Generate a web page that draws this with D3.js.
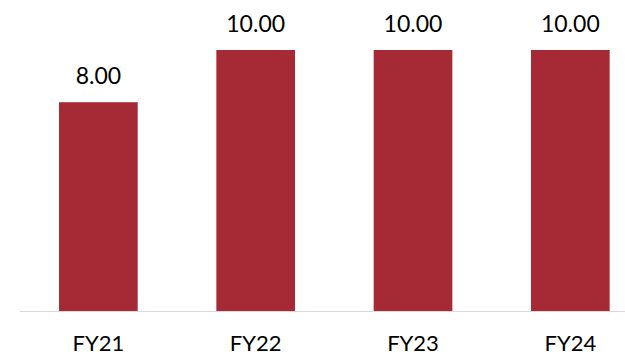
<!DOCTYPE html>
<html>
<head>
<meta charset="utf-8">
<script src="https://cdn.jsdelivr.net/npm/d3@7"></script>
<style>
  body { margin: 0; background: #fff; }
  svg text { font-family: Lato, "Open Sans", sans-serif; }
</style>
</head>
<body>
<div id="chart"></div>
<script>
var categories = ["FY21", "FY22", "FY23", "FY24"];
var values = [8, 10, 10, 10];

var width = 625, height = 356;

var svg = d3.select("#chart").append("svg")
  .attr("width", width)
  .attr("height", height);

var xScale = d3.scaleBand()
  .domain(categories)
  .range([19.7, 649])
  .paddingInner(0.5)
  .paddingOuter(0.25);

var yScale = d3.scaleLinear()
  .domain([0, 10])
  .range([311, 50]);

// baseline
svg.append("line")
  .attr("x1", 19.7)
  .attr("x2", width)
  .attr("y1", yScale(0) + 0.5)
  .attr("y2", yScale(0) + 0.5)
  .attr("stroke", "#d9d9d9")
  .attr("stroke-width", 1);

svg.selectAll(".bar")
  .data(values)
  .enter().append("rect")
  .attr("class", "bar")
  .attr("x", (d, i) => xScale(categories[i]))
  .attr("y", d => yScale(d))
  .attr("width", xScale.bandwidth())
  .attr("height", d => yScale(0) - yScale(d))
  .attr("fill", "#a52a35");

svg.selectAll(".val")
  .data(values)
  .enter().append("text")
  .attr("class", "val")
  .attr("x", (d, i) => xScale(categories[i]) + xScale.bandwidth() / 2)
  .attr("y", d => yScale(d) - 18)
  .attr("text-anchor", "middle")
  .attr("font-size", 23)
  .attr("fill", "#000")
  .text(d => d3.format(".2f")(d));

svg.selectAll(".cat")
  .data(categories)
  .enter().append("text")
  .attr("class", "cat")
  .attr("x", d => xScale(d) + xScale.bandwidth() / 2)
  .attr("y", 351)
  .attr("text-anchor", "middle")
  .attr("font-size", 22)
  .attr("fill", "#000")
  .text(d => d);
</script>
</body>
</html>
